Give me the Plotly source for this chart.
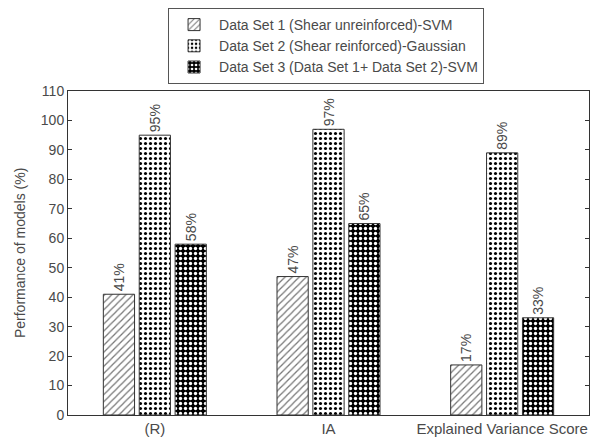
import plotly.graph_objects as go

categories = ["(R)", "IA", "Explained Variance Score"]
series_names = [
    "Data Set 1 (Shear unreinforced)-SVM",
    "Data Set 2 (Shear reinforced)-Gaussian",
    "Data Set 3 (Data Set 1+ Data Set 2)-SVM",
]
set1 = [41, 47, 17]
set2 = [95, 97, 89]
set3 = [58, 65, 33]
y_ticks = list(range(0, 111, 10))

FONT = "Arial, Liberation Sans, sans-serif"
TXT = "#4a4a4a"

styles = [
    dict(shape="/", bgcolor="white", fgcolor="#777777", size=5, solidity=0.25),
    dict(shape=".", bgcolor="white", fgcolor="black", size=5, solidity=0.3),
    dict(shape=".", bgcolor="black", fgcolor="white", size=5, solidity=0.35),
]

fig = go.Figure()
for name, vals, pat in zip(series_names, [set1, set2, set3], styles):
    fig.add_trace(go.Bar(
        x=categories, y=vals, name=name,
        marker=dict(color="white", line=dict(color="#333333", width=1),
                    pattern=dict(fillmode="replace", **pat)),
        text=[f"{v}%" for v in vals], textposition="outside", textangle=-90,
        textfont=dict(family=FONT, size=14, color=TXT),
        cliponaxis=False,
    ))

fig.update_layout(
    width=595, height=431,
    margin=dict(l=60, r=14, t=83, b=24, autoexpand=False),
    paper_bgcolor="white", plot_bgcolor="white",
    barmode="group", bargap=0.38, bargroupgap=0.13,
    font=dict(family=FONT, size=14, color=TXT),
    showlegend=True,
    legend=dict(xref="container", yref="container", x=0.269, y=1.0,
                xanchor="left", yanchor="top",
                bordercolor="#555555", borderwidth=1,
                font=dict(family=FONT, size=14, color=TXT),
                tracegroupgap=0, itemwidth=40),
    annotations=[dict(text="Performance of models (%)", xref="paper", yref="paper",
                      x=-0.092, y=0.5, xanchor="center", yanchor="middle",
                      textangle=-90, showarrow=False,
                      font=dict(family=FONT, size=14, color=TXT))],
)
fig.update_yaxes(range=[0, 110], tickvals=y_ticks, ticks="inside", ticklen=4,
                 tickcolor="#333333", showline=True, linecolor="#333333", linewidth=1,
                 mirror="ticks", showgrid=False, zeroline=False,
                 tickfont=dict(family=FONT, size=14, color=TXT))
fig.update_xaxes(ticks="", showline=True, linecolor="#333333", linewidth=1,
                 mirror=True, showgrid=False,
                 tickfont=dict(family=FONT, size=15, color=TXT))

fig.write_html("out.html")
